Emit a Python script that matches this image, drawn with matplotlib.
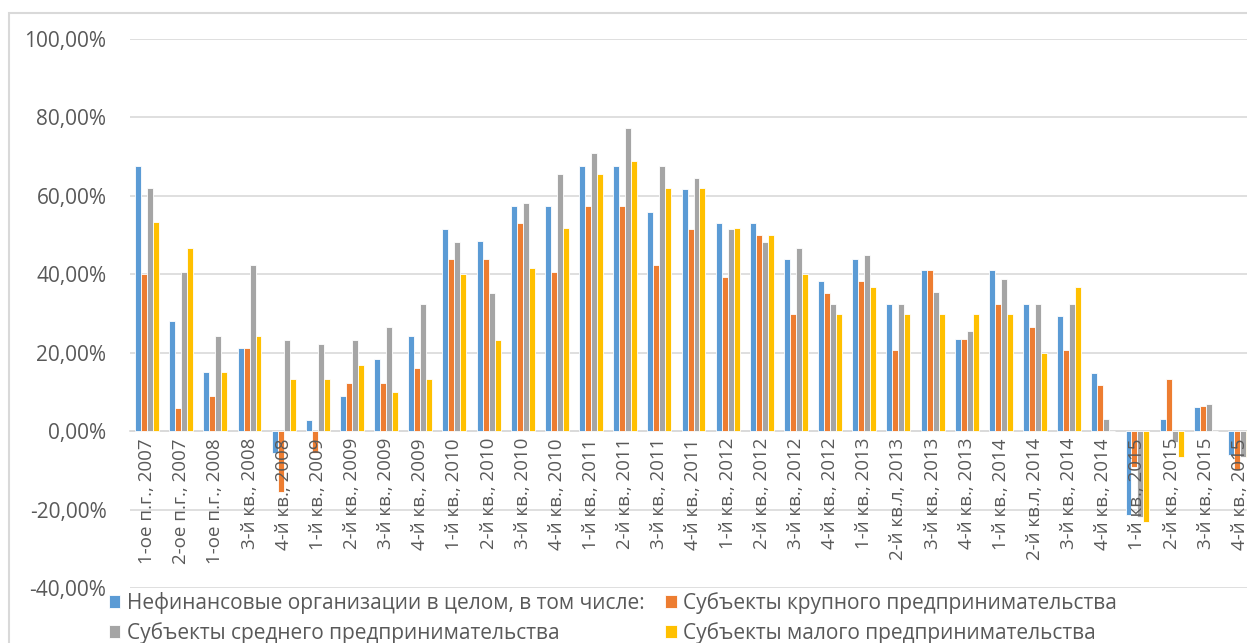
import matplotlib.pyplot as plt
from matplotlib.patches import Rectangle
from matplotlib.ticker import FuncFormatter
import numpy as np

periods = ['1-ое п.г., 2007', '2-ое п.г., 2007', '1-ое п.г., 2008', '3-й кв., 2008',
           '4-й кв., 2008', '1-й кв., 2009', '2-й кв., 2009', '3-й кв., 2009',
           '4-й кв., 2009', '1-й кв., 2010', '2-й кв., 2010', '3-й кв., 2010',
           '4-й кв., 2010', '1-й кв., 2011', '2-й кв., 2011', '3-й кв., 2011',
           '4-й кв., 2011', '1-й кв., 2012', '2-й кв., 2012', '3-й кв., 2012',
           '4-й кв., 2012', '1-й кв., 2013', '2-й кв.л, 2013', '3-й кв., 2013',
           '4-й кв., 2013', '1-й кв., 2014', '2-й кв.л, 2014', '3-й кв., 2014',
           '4-й кв., 2014', '1-й кв., 2015', '2-й кв., 2015', '3-й кв., 2015',
           '4-й кв., 2015']

nonfin_total = [67.6, 28.1, 15.0, 21.3, -5.5, 2.8, 9.0, 18.3, 24.3, 51.6, 48.6,
                57.5, 57.5, 67.6, 67.6, 56.0, 61.7, 53.0, 53.0, 44.0, 38.3, 44.0,
                32.3, 41.2, 23.6, 41.2, 32.3, 29.4, 14.7, -21.4, 3.0, 6.2, -6.1]
large = [40.0, 6.0, 9.0, 21.3, -15.5, -5.7, 12.3, 12.3, 16.2, 43.8, 43.8,
         53.1, 40.6, 57.5, 57.5, 42.3, 51.6, 39.3, 50.0, 30.0, 35.3, 38.3,
         20.6, 41.2, 23.6, 32.3, 26.6, 20.6, 11.8, -9.2, 13.3, 6.5, -10.0]
medium = [62.0, 40.5, 24.3, 42.3, 23.3, 22.3, 23.3, 26.6, 32.3, 48.3, 35.3,
          58.2, 65.5, 70.9, 77.4, 67.6, 64.6, 51.6, 48.3, 46.7, 32.3, 45.0,
          32.3, 35.6, 25.6, 38.8, 32.3, 32.3, 3.0, -22.0, -2.7, 6.8, -6.5]
small = [53.3, 46.8, 15.0, 24.3, 13.3, 13.3, 16.8, 10.0, 13.3, 40.0, 23.3,
         41.5, 51.9, 65.5, 69.0, 62.0, 62.0, 51.9, 50.0, 40.0, 29.9, 36.7,
         29.9, 29.9, 29.9, 29.9, 20.0, 36.7, 0.0, -23.2, -6.5, 0.0, -6.5]

series = [
    ('Нефинансовые организации в целом, в том числе:', nonfin_total, '#5B9BD5'),
    ('Субъекты крупного предпринимательства', large, '#ED7D31'),
    ('Субъекты среднего предпринимательства', medium, '#A5A5A5'),
    ('Субъекты малого предпринимательства', small, '#FFC000'),
]

plt.rcParams['font.family'] = ['Open Sans', 'DejaVu Sans']
text_color = '#595959'
grid_color = '#d9d9d9'

fig = plt.figure(figsize=(12.47, 6.43), dpi=100)
ax = fig.add_axes([130 / 1247, 1 - 588 / 643, 1127 / 1247, (588 - 39) / 643])

x = np.arange(len(periods))
w = 0.175
handles = []
for i, (name, vals, color) in enumerate(series):
    handles.append(ax.bar(x + (i - 1.5) * w, vals, width=w, color=color,
                          edgecolor='white', linewidth=0.6, label=name, zorder=1))

yticks = np.arange(-40, 101, 20)
ax.set_xlim(-0.5, len(periods) - 0.5)
ax.set_ylim(-40, 100)
ax.set_yticks(yticks)
ax.yaxis.set_major_formatter(FuncFormatter(lambda v, _: f'{v:.2f}%'.replace('.', ',')))
# gridlines under the bars, tick labels stay on top
for v in yticks:
    ax.axhline(v, color=grid_color, linewidth=1.2, zorder=0)

# category axis crosses at zero, labels hang below it
ax.spines['bottom'].set_position(('data', 0))
ax.spines['bottom'].set_color(grid_color)
ax.spines['bottom'].set_linewidth(1.2)
ax.spines['bottom'].set_zorder(0)
for s in ['top', 'right', 'left']:
    ax.spines[s].set_visible(False)

ax.set_xticks(x)
ax.set_xticklabels(periods)
ax.tick_params(axis='x', length=0, pad=5, labelsize=13.5, labelcolor=text_color,
               labelrotation=90)
ax.tick_params(axis='y', length=0, pad=17, labelsize=15, labelcolor=text_color)

order = [0, 2, 1, 3]
leg = fig.legend([handles[k] for k in order], [series[k][0] for k in order],
                 ncol=2, loc='upper left', bbox_to_anchor=(109 / 1247, 1 - 592 / 643),
                 frameon=False, fontsize=15, handlelength=0.55, handleheight=0.55,
                 handletextpad=0.3, columnspacing=1.0, labelspacing=0.38,
                 borderpad=0, borderaxespad=0)
for t in leg.get_texts():
    t.set_color(text_color)

# chart frame
fig.patches.append(Rectangle((9 / 1247, -0.1), 1.2, 1 - 13 / 643 + 0.1,
                             transform=fig.transFigure, fill=False,
                             edgecolor=grid_color, linewidth=1.5, clip_on=False))

fig.savefig('out.png', dpi=100)
